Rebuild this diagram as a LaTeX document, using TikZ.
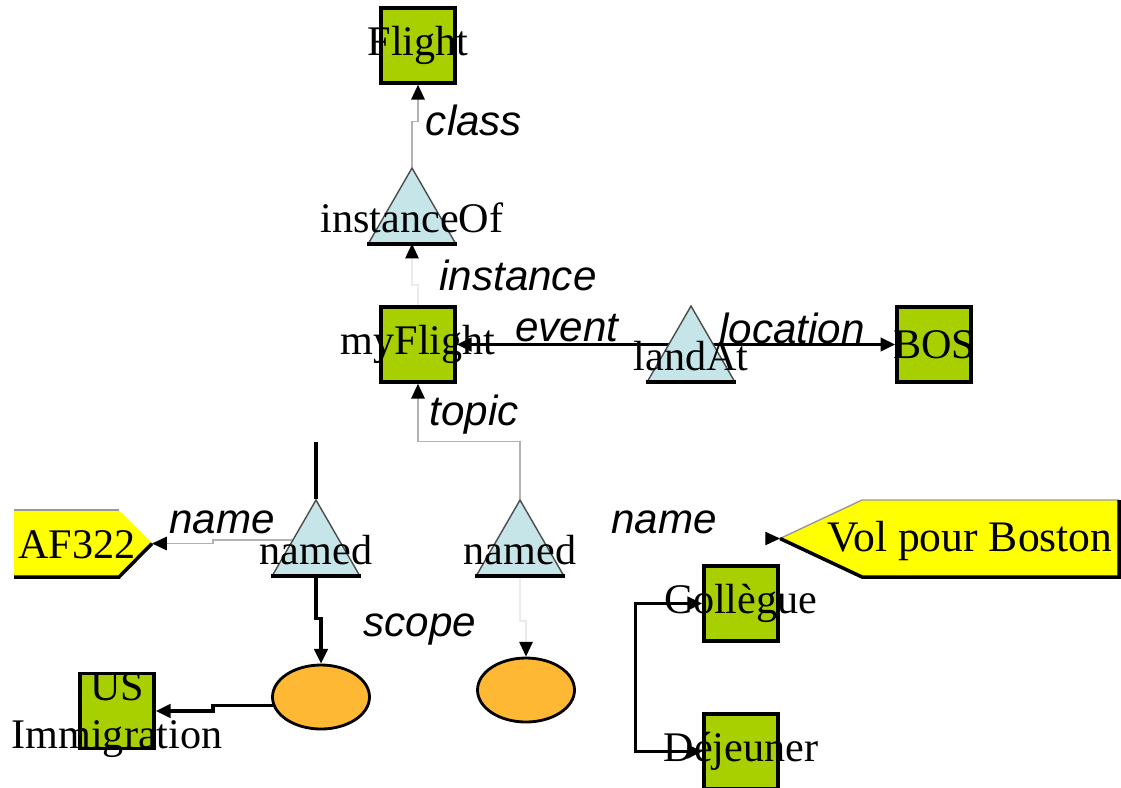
\documentclass[tikz,border=0pt]{standalone}
\usepackage{fontspec}
\setmainfont{Liberation Serif}
\newfontfamily\rolefont{Liberation Sans}
\usetikzlibrary{arrows.meta,shapes.geometric,backgrounds}

\definecolor{topicgreen}{RGB}{168,208,0}
\definecolor{assocblue}{RGB}{197,229,232}
\definecolor{scopeorange}{RGB}{255,184,51}
\definecolor{nameyellow}{RGB}{255,255,0}

\tikzset{
  topic/.style={rectangle,draw,line width=1pt,fill=topicgreen,
    minimum width=.74cm,minimum height=.75cm,inner sep=0pt,
    every label/.style={yshift=-.03cm}},
  assoc/.style={regular polygon,regular polygon sides=3,fill=assocblue,
    draw=black!70,line width=.4pt,minimum size=1cm,inner sep=0pt,
    every label/.style={yshift=.03cm}},
  scopeoval/.style={ellipse,draw,line width=.8pt,fill=scopeorange,
    minimum width=.97cm,minimum height=.64cm,inner sep=0pt},
  role/.style={font=\fontsize{12}{14}\rolefont\itshape},
  link/.style={draw=black,line width=1pt},
  faint/.style={draw=black!30,line width=.5pt},
  fainter/.style={draw=black!8,line width=.5pt},
}

\begin{document}
\begin{tikzpicture}[font=\fontsize{12}{12.5}\selectfont,
    >={Triangle[length=4.2pt,width=3.8pt,black]}]
\useasboundingbox (0,0) rectangle (11.21,7.87);

% topics
\node[topic,label=center:Flight] (flight) at (4.18,7.415) {};
\node[topic,label=center:myFlight] (myflight) at (4.18,4.425) {};
\node[topic,label=center:BOS] (bos) at (9.34,4.425) {};
\node[topic,label={[align=center,yshift=-.04cm,
    font=\fontsize{12}{13.6}\selectfont]center:US\\Immigration}] (usimm) at (1.17,.76) {};
\node[topic,label=center:Coll\`egue] (college) at (7.41,1.835) {};
\node[topic,label=center:D\'ejeuner] (dejeuner) at (7.41,.355) {};

% associations
\node[assoc,label=center:instanceOf] (instof) at (4.12,5.69) {};
\node[assoc,label=center:landAt] (landat) at (6.91,4.31) {};
\node[assoc,label=center:named] (named1) at (3.16,2.37) {};
\node[assoc,label=center:named] (named2) at (5.20,2.37) {};
\foreach \t in {instof,landat,named1,named2}
    \draw[line width=1.2pt] (\t.corner 2) -- (\t.corner 3);

% scopes
\node[scopeoval] (sc1) at (3.21,.90) {};
\node[scopeoval] (sc2) at (5.26,.97) {};

% names
\fill[nameyellow] (.14,2.10) -- (1.19,2.10) -- (1.52,2.435) -- (1.19,2.77) -- (.14,2.77) -- cycle;
\draw[black!40,line width=.4pt] (.14,2.77) -- (1.19,2.77);
\draw[line width=1pt] (.14,2.10) -- (1.19,2.10) -- (1.52,2.435);
\coordinate (af322) at (1.52,2.435);
\node (af322text) at (.77,2.42) {AF322};

\fill[nameyellow] (7.80,2.485) -- (8.62,2.87) -- (11.19,2.87) -- (11.19,2.10) -- (8.62,2.10) -- cycle;
\draw[black!40,line width=.4pt] (7.80,2.485) -- (8.62,2.87) -- (11.19,2.87);
\draw[line width=1pt] (7.80,2.485) -- (8.62,2.10) -- (11.19,2.10) -- (11.19,2.87);
\coordinate (vol) at (7.80,2.485);
\node[font=\fontsize{12.4}{14}\selectfont] (voltext) at (9.70,2.46) {Vol pour Boston};

\coordinate (loose) at (3.16,3.45);

% roles
\node[role] (rclass) at (4.74,6.67) {class};
\node[role] (rinstance) at (5.18,5.12) {instance};
\node[role] (revent) at (5.67,4.59) {event};
\node[role] (rlocation) at (7.92,4.59) {location};
\node[role] (rtopic) at (4.74,3.72) {topic};
\node[role] (rname1) at (2.22,2.65) {name};
\node[role] (rname2) at (6.64,2.65) {name};
\node[role] (rscope) at (4.20,1.57) {scope};

\begin{scope}[on background layer]
    \draw[faint,->] (instof.corner 1) -- ++(0,.45) -| (flight.south);
    \draw[fainter,->] (myflight.north) -- ++(0,.2) -| (instof.south);
    \draw[link,->] (landat |- myflight.east) -- (myflight.east);
    \draw[link,->] (landat |- bos.west) -- (bos.west);
    \draw[faint,->] (named2.corner 1) -- ++(0,.57) -| (myflight.south);
    \draw[link] (named1.corner 1) -- (loose);
    \draw[faint,->] ([shift={(-.2,.1)}]named1.center) -- ++(-.83,0) |- (af322);
    \draw[draw=white,->] (named2.center |- vol) -- (vol);
    \draw[link,->] (named1.south) -- ++(0,-.43) -| (sc1.north);
    \draw[fainter,->] (named2.south) -- ++(0,-.45) -| (sc2.north);
    \draw[link,->] (sc1.190) -- ++(-.6,0) |- (usimm.east);
    \draw[link,<->] (college.west) -- ++(-.67,0) |- (dejeuner.west);
\end{scope}
\end{tikzpicture}
\end{document}
